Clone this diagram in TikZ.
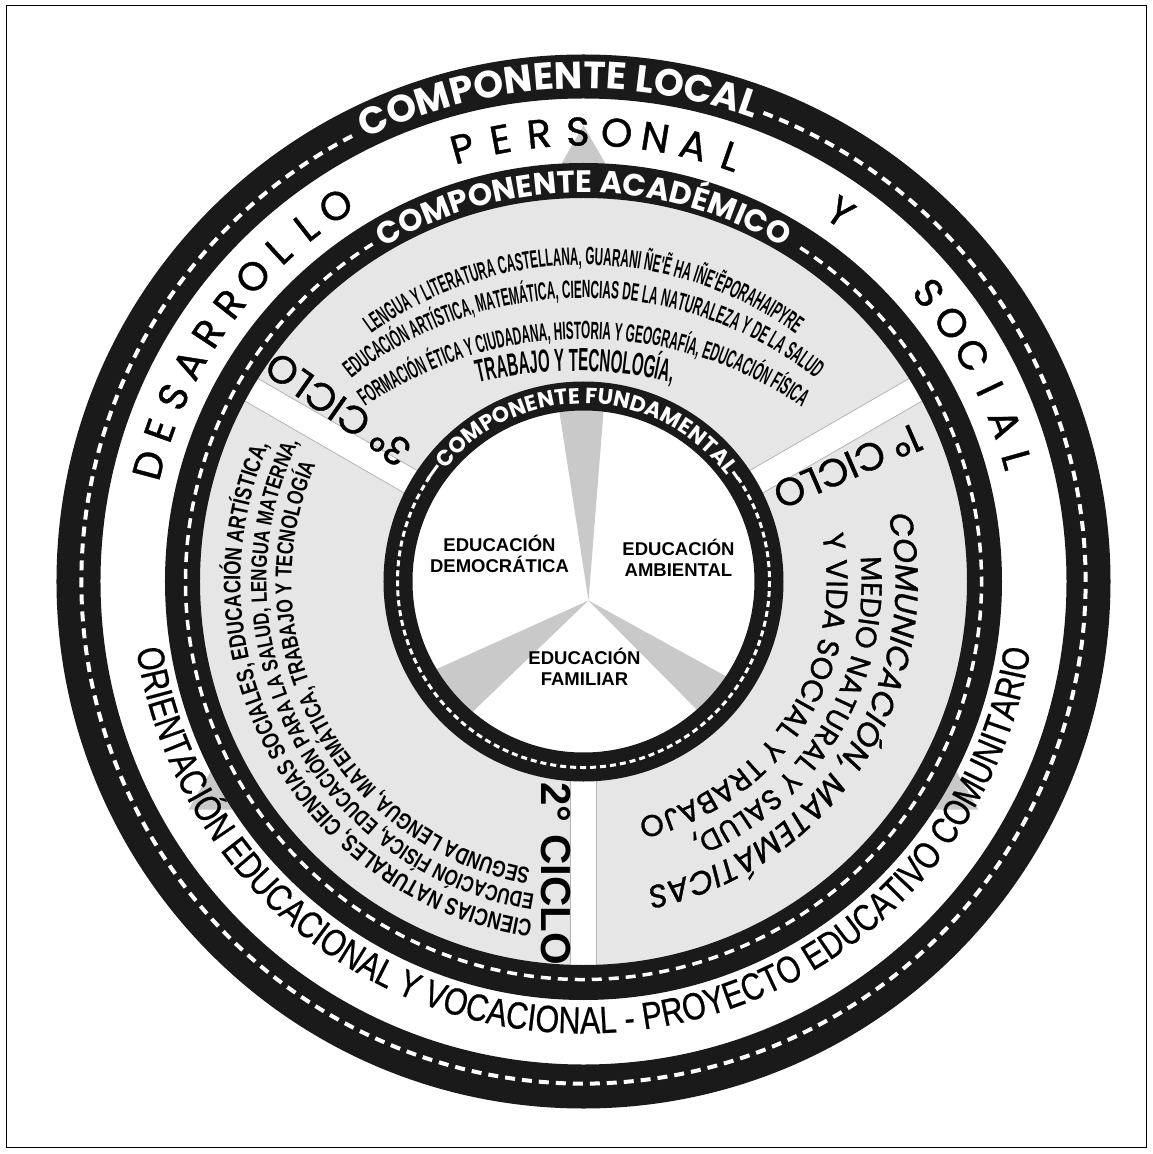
\documentclass[tikz,border=0pt]{standalone}
\usepackage{fontspec}
\usetikzlibrary{calc,decorations.text}
\newfontfamily\gothicf{Poppins}
\newfontfamily\gothicm[FakeBold=1]{Poppins}
\newfontfamily\arialf{Liberation Sans}
\newfontfamily\narrowf[FakeStretch=0.47]{Liberation Sans}
\newfontfamily\condf[FakeStretch=0.76]{Liberation Sans}
\newfontfamily\slimf[FakeStretch=0.8,FakeBold=0.6]{Liberation Sans}
\definecolor{bandblack}{HTML}{1A1A1A}
\definecolor{sectorgray}{HTML}{E6E6E6}
\definecolor{shadegray}{HTML}{C9C9C9}
\definecolor{edgegray}{HTML}{B4B4B4}

% text on an arc round a centre, centred on an angle
% cw: reads clockwise, tops outward; ccw: reads anticlockwise, tops inward
\newcommand{\cwtext}[6][black]{%
  \path[decorate,decoration={text along path,text align=center,text color=#1,text={|#5|#6}}]
    ($(#2)+({#3+100}:#4)$) arc[start angle={#3+100},end angle={#3-100},radius=#4];}
\newcommand{\ccwtext}[6][black]{%
  \path[decorate,decoration={text along path,text align=center,text color=#1,text={|#5|#6}}]
    ($(#2)+({#3-100}:#4)$) arc[start angle={#3-100},end angle={#3+100},radius=#4];}

\tikzset{
  band/.style={draw=bandblack},
  dashline/.style={draw=white,dash pattern=on 10pt off 7pt},
  divider/.style={fill=white,draw=edgegray,line width=0.8pt},
  spike/.style={fill=shadegray,draw=none},
  bigletter/.style={font=\gothicm\fontsize{40}{40}\selectfont,inner sep=0pt,anchor=base},
  ciclo/.style={font=\gothicm\fontsize{39}{39}\selectfont,inner sep=0pt},
  ciclotwo/.style={font=\arialf\bfseries\fontsize{42}{42}\selectfont,inner sep=0pt},
  edunode/.style={font=\arialf\bfseries\fontsize{18.5}{21}\selectfont,align=center,inner sep=0pt},
}

\begin{document}
\begin{tikzpicture}[x=1pt,y=1pt]
  \useasboundingbox (-583.5,-572.5) rectangle (569.5,581.5);
  % frame
  \draw[line width=1pt] (-576.5,-565.5) rectangle (562.5,575.5);

  % shaded triangle behind everything
  \fill[shadegray] (90:456pt) -- (210:456pt) -- (330:456pt) -- cycle;

  % sectors
  \fill[sectorgray] (0,0) circle[radius=400pt];
  \foreach \a in {30,150,270}
    \draw[divider,rotate=\a] (190,-13) rectangle (392,13);
  \fill[white] (0,0) circle[radius=186pt];
  \coordinate (apex) at (5,-19);
  \fill[spike] (apex) -- (-28,195) -- (22,195) -- cycle;
  \fill[spike] (apex) -- (-161,-94) -- (-123,-142) -- cycle;
  \fill[spike] (apex) -- (161,-105) -- (128,-143) -- cycle;

  % rings
  \draw[band,line width=44pt] (0,0) circle[radius=505pt];
  \draw[band,line width=35pt] (0,0) circle[radius=401pt];
  \draw[band,line width=29pt] (0,0) circle[radius=185.5pt];
  \draw[dashline,line width=4pt] (69:502pt) arc[start angle=69,end angle=-243,radius=502pt];
  \draw[dashline,line width=3.5pt] (57:398pt) arc[start angle=57,end angle=-238,radius=398pt];
  \draw[dashline,line width=3pt,dash pattern=on 6pt off 4pt] (34:186pt) arc[start angle=34,end angle=-214,radius=186pt];

  % ring titles
  \cwtext[white]{0,0}{93}{493pt}{\gothicf\bfseries\fontsize{38}{38}\selectfont}{COMPONENTE LOCAL}
  \cwtext[white]{0,0}{90}{389pt}{\gothicf\bfseries\fontsize{31}{31}\selectfont}{COMPONENTE ACADÉMICO}
  \cwtext[white]{0,0}{90}{178pt}{\gothicf\bfseries\fontsize{22}{22}\selectfont}{—COMPONENTE FUNDAMENTAL-}

  % desarrollo personal y social
  \foreach \ch [count=\i from 0] in {D,E,S,A,R,R,O,L,L,O}
    \node[bigletter,rotate={75-4.62*\i}] (des\i) at ({165-4.62*\i}:436pt) {\ch};
  \foreach \ch [count=\i from 0] in {P,E,R,S,O,N,A,L}
    \node[bigletter,rotate={15.6-4.96*\i}] (per\i) at ({105.6-4.96*\i}:436pt) {\ch};
  \node[bigletter,rotate=-34.8] (yy) at (55.2:436pt) {Y};
  \foreach \ch [count=\i from 0] in {S,O,C,I,A,L}
    \node[bigletter,rotate={-50.1-4.84*\i}] (soc\i) at ({39.9-4.84*\i}:436pt) {\ch};

  % bottom title
  \ccwtext{0,0}{270}{452pt}{\slimf\fontsize{38}{38}\selectfont}{ORIENTACIÓN EDUCACIONAL Y VOCACIONAL - PROYECTO EDUCATIVO COMUNITARIO}

  % cycles
  \node[ciclo,rotate=203.5] (ciclo1) at (23.5:288pt) {1° CICLO};
  \node[ciclotwo,rotate=-90] (ciclo2) at (-28,-292) {2° CICLO};
  \node[ciclo,rotate=145] (ciclo3) at (145:300pt) {3° CICLO};

  % top sector
  \cwtext{0,-43.5}{90}{360pt}{\narrowf\bfseries\fontsize{25}{25}\selectfont}{LENGUA Y LITERATURA CASTELLANA, GUARANI ÑE'Ẽ HA IÑE'ẼPORAHAIPYRE}
  \cwtext{0,-91.5}{90}{375pt}{\narrowf\bfseries\fontsize{25}{25}\selectfont}{EDUCACIÓN ARTÍSTICA, MATEMÁTICA, CIENCIAS DE LA NATURALEZA Y DE LA SALUD}
  \cwtext{0,-141.5}{90}{384pt}{\narrowf\bfseries\fontsize{25}{25}\selectfont}{FORMACIÓN ÉTICA Y CIUDADANA, HISTORIA Y GEOGRAFÍA, EDUCACIÓN FÍSICA}
  \cwtext{-8,-212.5}{90}{423pt}{\narrowf\bfseries\fontsize{32}{32}\selectfont}{TRABAJO Y TECNOLOGÍA,}

  % right sector
  \cwtext{0,0}{-33}{312pt}{\gothicm\itshape\fontsize{32}{32}\selectfont}{COMUNICACIÓN, MATEMÁTICAS}
  \cwtext{0,0}{-31}{278pt}{\gothicm\fontsize{29}{29}\selectfont}{MEDIO NATURAL Y SALUD,}
  \cwtext{0,0}{-33}{243pt}{\gothicm\fontsize{30}{30}\selectfont}{Y VIDA SOCIAL Y TRABAJO}

  % left sector
  \cwtext{0,0}{209}{343pt}{\condf\bfseries\fontsize{24}{24}\selectfont}{CIENCIAS NATURALES, CIENCIAS SOCIALES, EDUCACIÓN ARTÍSTICA,}
  \cwtext{0,0}{207.5}{317pt}{\condf\bfseries\fontsize{22.3}{22.3}\selectfont}{EDUCACIÓN FÍSICA, EDUCACIÓN PARA LA SALUD, LENGUA MATERNA,}
  \cwtext{0,0}{208}{292pt}{\condf\bfseries\fontsize{23}{23}\selectfont}{SEGUNDA LENGUA, MATEMÁTICA, TRABAJO Y TECNOLOGÍA}

  % centre
  \node[edunode] (democratica) at (-84,28) {EDUCACIÓN\\DEMOCRÁTICA};
  \node[edunode] (ambiental) at (95,24) {EDUCACIÓN\\AMBIENTAL};
  \node[edunode] (familiar) at (1,-85) {EDUCACIÓN\\FAMILIAR};
\end{tikzpicture}
\end{document}
